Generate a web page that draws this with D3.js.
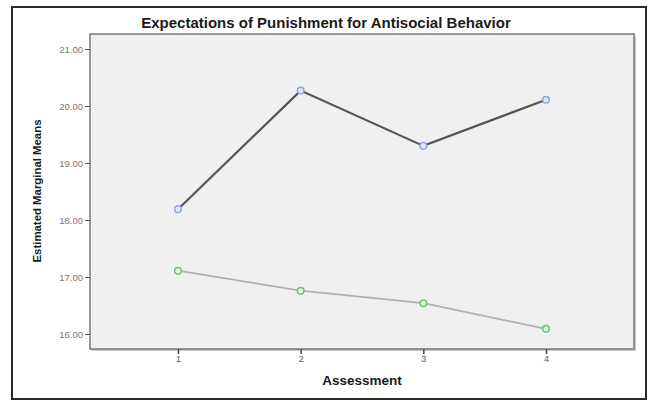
<!DOCTYPE html>
<html>
<head>
<meta charset="utf-8">
<script src="https://d3js.org/d3.v7.min.js"></script>
<style>
  body { margin: 0; background: #fff; }
  svg { display: block; font-family: "Liberation Sans", Arial, sans-serif; }
</style>
</head>
<body>
<div id="chart"></div>
<script>
// values
var assessments = [1, 2, 3, 4];
var groupA = [18.19, 20.27, 19.30, 20.11];
var groupB = [17.11, 16.76, 16.54, 16.09];
var yTicks = [16, 17, 18, 19, 20, 21];

var W = 649, H = 401;
var plot = {left: 90, top: 34, right: 634, bottom: 349};

var svg = d3.select("#chart").append("svg").attr("width", W).attr("height", H);

// outer frame
svg.append("rect").attr("x", 12).attr("y", 7).attr("width", 634).attr("height", 392)
  .attr("fill", "#fff").attr("stroke", "#2a2a2a").attr("stroke-width", 2);

var x = d3.scalePoint().domain(assessments).range([plot.left, plot.right]).padding(0.717);
var y = d3.scaleLinear().domain([16, 21]).range([334, 49]);

// plot area with a slight shadow
svg.append("rect").attr("x", plot.left + 2).attr("y", plot.top + 2)
  .attr("width", plot.right - plot.left).attr("height", plot.bottom - plot.top)
  .attr("fill", "#c8c8c8");
svg.append("rect").attr("x", plot.left).attr("y", plot.top)
  .attr("width", plot.right - plot.left).attr("height", plot.bottom - plot.top)
  .attr("fill", "#f0f0f0").attr("stroke", "#7a7a7a").attr("stroke-width", 1.5);

// y axis
var yAxis = svg.append("g").attr("transform", "translate(" + plot.left + ",0)")
  .call(d3.axisLeft(y).tickValues(yTicks).tickFormat(d3.format(".2f")).tickSize(5).tickPadding(2));
yAxis.select(".domain").remove();
yAxis.selectAll(".tick line").attr("stroke", "#555");
yAxis.selectAll(".tick text").attr("fill", "#777").style("font-size", "9.5px")
  .style("font-family", "'Liberation Sans', Arial, sans-serif");

// x axis
var xAxis = svg.append("g").attr("transform", "translate(0," + plot.bottom + ")")
  .call(d3.axisBottom(x).tickSize(5).tickPadding(2));
xAxis.select(".domain").remove();
xAxis.selectAll(".tick line").attr("stroke", "#444").attr("stroke-width", 1.5);
xAxis.selectAll(".tick text").attr("fill", "#555").style("font-size", "9px")
  .style("font-family", "'Liberation Sans', Arial, sans-serif");

var line = d3.line().x(function(d, i) { return x(assessments[i]); }).y(function(d) { return y(d); });

svg.append("path").datum(groupB).attr("d", line)
  .attr("fill", "none").attr("stroke", "#b0b0b0").attr("stroke-width", 1.8);
svg.append("path").datum(groupA).attr("d", line)
  .attr("fill", "none").attr("stroke", "#555").attr("stroke-width", 2.2);

svg.selectAll(".ptA").data(groupA).enter().append("circle")
  .attr("cx", function(d, i) { return x(assessments[i]); }).attr("cy", function(d) { return y(d); })
  .attr("r", 3.3).attr("fill", "#e4e8f4").attr("stroke", "#90a4dc").attr("stroke-width", 1.5);
svg.selectAll(".ptB").data(groupB).enter().append("circle")
  .attr("cx", function(d, i) { return x(assessments[i]); }).attr("cy", function(d) { return y(d); })
  .attr("r", 3.3).attr("fill", "#e6f3e6").attr("stroke", "#6cc46c").attr("stroke-width", 1.5);

// titles
svg.append("text").attr("x", 326).attr("y", 28).attr("text-anchor", "middle")
  .style("font-size", "15px").style("font-weight", "bold").attr("fill", "#1a1a1a")
  .text("Expectations of Punishment for Antisocial Behavior");

svg.append("text").attr("x", 362).attr("y", 385).attr("text-anchor", "middle")
  .style("font-size", "13.5px").style("font-weight", "bold").attr("fill", "#1a1a1a")
  .text("Assessment");

svg.append("text").attr("transform", "translate(41,191) rotate(-90)").attr("text-anchor", "middle")
  .style("font-size", "11.5px").style("font-weight", "bold").attr("fill", "#1a1a1a")
  .attr("textLength", 143).attr("lengthAdjust", "spacingAndGlyphs")
  .text("Estimated Marginal Means");
</script>
</body>
</html>
